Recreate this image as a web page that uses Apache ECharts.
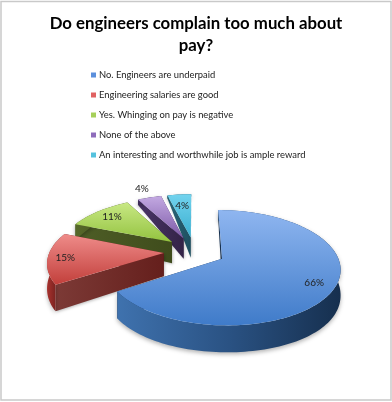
<!DOCTYPE html>
<html><head><meta charset="utf-8">
<style>html,body{margin:0;padding:0;background:#fff}#c{width:392px;height:402px}</style>
<script src="https://cdn.jsdelivr.net/npm/echarts@6/dist/echarts.min.js"></script>
</head><body><div id="c"></div>
<script>
const titleText = 'Do engineers complain too much about\npay?';
const categories = ['No. Engineers are underpaid','Engineering salaries are good','Yes. Whinging on pay is negative','None of the above','An interesting and worthwhile job is ample reward'];
const values = [66,15,11,4,4];
const legendColors = ['#5B8FDC','#E06262','#A6D05A','#8E6CBB','#55C2DE'];
const topColors = [['#8FB6F0','#3F7BC9'],['#EF8C8A','#C23F3B'],['#C8E884','#93C23F'],['#C3A9E2','#7C59A6'],['#72D3EE','#3AAECF']];
const rimColors = [['#3F72AE','#2A5283','#162F4E'],['#A8322E','#7A2320','#5E1A18'],['#56682A','#4C5C24','#3F4C1C'],['#3C2A58','#3C2A58','#3C2A58'],['#22586A','#22586A','#22586A']];
const wallColors = [['#16304F','#16304F'],['#651F1C','#7C3A36'],['#3F4C1C','#4E5E26'],['#332347','#4A3568'],['#1E4F60','#2A6678']];
const labelRadius = [0.83,0.85,0.80,1.26,0.72];

const Cx=194.5, Cy=251.5, Rx=114, Ry=54, K=0.154, EXPL=0.27;
const total = values.reduce((a,b)=>a+b,0);
const proj = (a,b)=>{const w=1/(1-K*b);return [Cx+Rx*a*w, Cy+Ry*b*w];};
const H = b=>11+14.67*(b+.85)-5.38*(b+.85)*(b+.1);
const low = (a,b)=>{const p=proj(a,b);return [p[0],p[1]+H(b)];};
const LG = (x0,y0,x1,y1,c)=>new echarts.graphic.LinearGradient(x0,y0,x1,y1,c.map((col,i)=>({offset:c.length>1?i/(c.length-1):0,color:col})));

function sliceItem(idx, api){
  const val = api.value(0);
  let before=0; for(let i=0;i<idx;i++) before+=values[i];
  const t0=before/total*2*Math.PI, t1=(before+val)/total*2*Math.PI, m=(t0+t1)/2;
  const a0=EXPL*Math.sin(m), b0=-EXPL*Math.cos(m);
  const pt=t=>[a0+Math.sin(t), b0-Math.cos(t)];
  const n=Math.max(6,Math.ceil((t1-t0)/0.03));
  const arc=[]; for(let i=0;i<=n;i++) arc.push(pt(t0+(t1-t0)*i/n));
  const topPts=[proj(a0,b0)].concat(arc.map(p=>proj(p[0],p[1])));
  const kids=[];
  const poly=(points,fill,extra)=>kids.push(Object.assign({type:'polygon',shape:{points},style:Object.assign({fill,stroke:null},extra||{})}));
  const end=pt(t1), st=pt(t0);
  poly([proj(a0,b0),proj(end[0],end[1]),low(end[0],end[1]),low(a0,b0)],rimColors[idx][2]);
  poly([proj(a0,b0),proj(st[0],st[1]),low(st[0],st[1]),low(a0,b0)],LG(1,0,0,0,wallColors[idx]),{shadowBlur:3,shadowColor:'rgba(0,0,0,.25)',shadowOffsetX:1,shadowOffsetY:1});
  const rimTop=arc.map(p=>proj(p[0],p[1]));
  const rimLow=arc.map(p=>low(p[0],p[1])).reverse();
  poly(rimTop.concat(rimLow),LG(0,0,1,0,rimColors[idx]),{shadowBlur:4,shadowColor:'rgba(0,0,0,.3)',shadowOffsetY:2});
  poly(topPts,LG(0,0,0,1,topColors[idx]));
  const r=labelRadius[idx];
  const lp=proj(a0+r*Math.sin(m), b0-r*Math.cos(m));
  kids.push({type:'text',style:{text:val+'%',x:lp[0],y:lp[1],align:'center',verticalAlign:'middle',font:'10px Lato',fill:'#222'},z2:10});
  return {type:'group',children:kids};
}

const chart=echarts.init(document.getElementById('c'),null,{renderer:'canvas'});
chart.setOption({
  animation:false,
  backgroundColor:'#fff',
  title:{text:titleText,left:196,top:8,textAlign:'center',textStyle:{fontFamily:'Lato',fontWeight:'bold',fontSize:16.8,lineHeight:22,color:'#000'},padding:[5,0,5,0]},
  legend:{orient:'vertical',left:86,top:64,itemWidth:5,itemHeight:5,itemGap:8,icon:'rect',data:categories,selectedMode:false,
    textStyle:{fontFamily:'Lato',fontSize:9.4,color:'#222',lineHeight:12,padding:[0,0,0,-2]}},
  graphic:[{type:'rect',shape:{x:1,y:1.5,width:390,height:398.5},style:{fill:'none',stroke:'#C9C9C9',lineWidth:1.5},silent:true}],
  series:categories.map((name,i)=>({
    type:'custom',name,coordinateSystem:'none',z:10-i,
    itemStyle:{color:legendColors[i]},
    data:[[values[i]]],
    renderItem:(p,api)=>sliceItem(i,api)
  }))
});
</script></body></html>
